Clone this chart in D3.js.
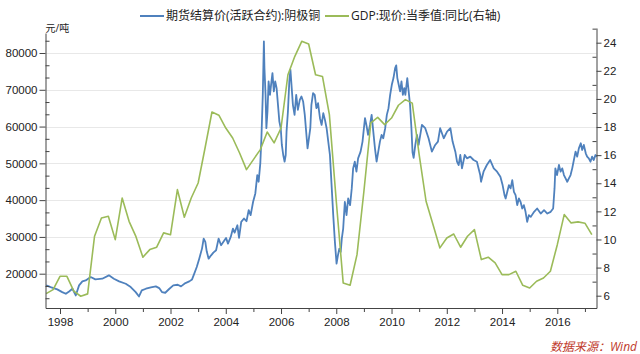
<!DOCTYPE html>
<html>
<head>
<meta charset="utf-8">
<script src="https://cdn.jsdelivr.net/npm/d3@7"></script>
<style>
  body { margin: 0; background: #fff; }
  svg { display: block; font-family: "Open Sans", "Noto Sans CJK SC", sans-serif; }
</style>
</head>
<body>
<div id="chart"></div>
<script>
// 期货结算价(活跃合约):阴极铜 as [year, 元/吨]
const copperSeries = [
    [1997.50, 16820], [1997.66, 16360], [1997.90, 15730], [1998.08, 15000], [1998.21, 14550],
    [1998.33, 15180], [1998.45, 15910], [1998.57, 14090], [1998.69, 16820], [1998.81, 17910],
    [1998.93, 18180], [1999.11, 19090], [1999.28, 18450], [1999.53, 18640], [1999.77, 19550],
    [1999.95, 18640], [2000.14, 17910], [2000.38, 17270], [2000.56, 16360], [2000.74, 15000],
    [2000.86, 13820], [2000.96, 15450], [2001.11, 15910], [2001.29, 16270], [2001.47, 16550],
    [2001.59, 16090], [2001.69, 15000], [2001.81, 14820], [2001.96, 15910], [2002.10, 16820],
    [2002.26, 17000], [2002.38, 16550], [2002.54, 17450], [2002.68, 17910], [2002.78, 18450],
    [2002.86, 20000], [2002.95, 21820], [2003.04, 24090], [2003.14, 26820], [2003.20, 29550],
    [2003.26, 28640], [2003.31, 26090], [2003.38, 24090], [2003.47, 25000], [2003.55, 25730],
    [2003.65, 26360], [2003.74, 29550], [2003.83, 27730], [2003.91, 28640], [2004.01, 29730],
    [2004.08, 28180], [2004.18, 30000], [2004.26, 32270], [2004.32, 31180], [2004.42, 33180],
    [2004.48, 29730], [2004.56, 34090], [2004.66, 35000], [2004.75, 34270], [2004.83, 37270],
    [2004.90, 35910], [2004.99, 39550], [2005.07, 41820], [2005.14, 46820], [2005.19, 45000],
    [2005.25, 50000], [2005.29, 56820], [2005.34, 68640], [2005.38, 83180], [2005.40, 75910],
    [2005.44, 68640], [2005.47, 59550], [2005.51, 64090], [2005.55, 72270], [2005.60, 68640],
    [2005.64, 71360], [2005.69, 74550], [2005.74, 69550], [2005.79, 72270], [2005.84, 70450],
    [2005.89, 65910], [2005.94, 61360], [2005.99, 59550], [2006.03, 55000], [2006.08, 52270],
    [2006.13, 50450], [2006.17, 52270], [2006.20, 58640], [2006.25, 64090], [2006.30, 72270],
    [2006.34, 75450], [2006.37, 72270], [2006.43, 65910], [2006.49, 63180], [2006.55, 68640],
    [2006.61, 64550], [2006.68, 67270], [2006.74, 68180], [2006.80, 66820], [2006.86, 63180],
    [2006.91, 58640], [2006.96, 54090], [2007.01, 56820], [2007.06, 59550], [2007.10, 65910],
    [2007.16, 69090], [2007.22, 68640], [2007.28, 65000], [2007.34, 66360], [2007.41, 62270],
    [2007.47, 60450], [2007.53, 63640], [2007.59, 61820], [2007.65, 59550], [2007.71, 55910],
    [2007.77, 52270], [2007.83, 44090], [2007.89, 35910], [2007.95, 28640], [2008.01, 22730],
    [2008.06, 25000], [2008.11, 26820], [2008.16, 25910], [2008.20, 29550], [2008.25, 32270],
    [2008.31, 39550], [2008.37, 35910], [2008.43, 40450], [2008.50, 38640], [2008.56, 43180],
    [2008.61, 48640], [2008.67, 50450], [2008.73, 47730], [2008.79, 51360], [2008.88, 53180],
    [2008.95, 55910], [2009.00, 59550], [2009.04, 62270], [2009.09, 60450], [2009.15, 57730],
    [2009.22, 60450], [2009.28, 63180], [2009.34, 58640], [2009.40, 54090], [2009.46, 50450],
    [2009.52, 53180], [2009.58, 55910], [2009.64, 57730], [2009.70, 56820], [2009.77, 59550],
    [2009.83, 63180], [2009.89, 65000], [2009.95, 68640], [2010.01, 71360], [2010.07, 73180],
    [2010.13, 75910], [2010.17, 76640], [2010.21, 73180], [2010.26, 71360], [2010.31, 69550],
    [2010.36, 72270], [2010.41, 68640], [2010.46, 70450], [2010.50, 68640], [2010.57, 73180],
    [2010.62, 69550], [2010.67, 65910], [2010.72, 59550], [2010.76, 53000], [2010.80, 51500],
    [2010.86, 55000], [2010.92, 57730], [2010.98, 55000], [2011.10, 60450], [2011.22, 59550],
    [2011.34, 56820], [2011.46, 53180], [2011.58, 55000], [2011.68, 55910], [2011.76, 59550],
    [2011.89, 56820], [2012.01, 58640], [2012.13, 59550], [2012.21, 55910], [2012.31, 53180],
    [2012.37, 50450], [2012.43, 49550], [2012.49, 52270], [2012.55, 48640], [2012.65, 52270],
    [2012.73, 51360], [2012.85, 51820], [2012.97, 50910], [2013.09, 50450], [2013.21, 46820],
    [2013.24, 45000], [2013.33, 47730], [2013.45, 49550], [2013.57, 50910], [2013.70, 48640],
    [2013.82, 47730], [2013.94, 46360], [2014.02, 44090], [2014.09, 41360], [2014.13, 40450],
    [2014.19, 42270], [2014.25, 44090], [2014.31, 43180], [2014.37, 45450], [2014.43, 42270],
    [2014.49, 41360], [2014.55, 38640], [2014.61, 40450], [2014.67, 39550], [2014.73, 37730],
    [2014.79, 38640], [2014.85, 36820], [2014.91, 34090], [2014.97, 35910], [2015.04, 35450],
    [2015.16, 36820], [2015.27, 37730], [2015.40, 36360], [2015.52, 37270], [2015.64, 36360],
    [2015.76, 36820], [2015.85, 37730], [2015.90, 43180], [2015.93, 48640], [2015.99, 46820],
    [2016.06, 49550], [2016.12, 47730], [2016.18, 48640], [2016.24, 46820], [2016.30, 45910],
    [2016.36, 45000], [2016.42, 45910], [2016.48, 46820], [2016.54, 48640], [2016.60, 50910],
    [2016.66, 53180], [2016.72, 51820], [2016.78, 54090], [2016.85, 55450], [2016.90, 53640],
    [2016.96, 55000], [2017.03, 52730], [2017.08, 51820], [2017.14, 51360], [2017.20, 50450],
    [2017.26, 51820], [2017.32, 50910], [2017.38, 52270], [2017.42, 51820]
];

// GDP:现价:当季值:同比 (%), one value per quarter from gdpStart
const gdpStart = 1997.5;
const gdpValues = [
    6.15, 6.43, 7.38, 7.38, 6.32, 5.96, 6.13, 10.23, 11.53, 11.65,
    9.99, 12.95, 11.29, 10.2, 8.74, 9.28, 9.45, 10.47, 10.34, 13.55,
    11.58, 12.95, 14.02, 16.51, 19.07, 18.84, 17.93, 17.22, 16.15, 14.97,
    15.68, 16.39, 17.65, 16.87, 17.93, 21.72, 23.03, 24.1, 23.91, 21.72,
    21.6, 18.88, 12.72, 6.91, 6.74, 8.92, 13.43, 18.29, 18.69, 18.17,
    18.64, 19.55, 19.95, 19.7, 16.03, 12.72, 11.06, 9.4, 10.11, 10.39,
    9.45, 10.23, 10.7, 8.57, 8.74, 8.33, 7.5, 7.5, 7.74, 6.74,
    6.55, 7.03, 7.26, 7.74, 9.63, 11.77, 11.18, 11.25, 11.16, 10.34
];

const leftTicks = [20000, 30000, 40000, 50000, 60000, 70000, 80000];
const rightTicks = [6, 8, 10, 12, 14, 16, 18, 20, 22, 24];
const yearTicks = [1998, 2000, 2002, 2004, 2006, 2008, 2010, 2012, 2014, 2016];
const yearMinorTicks = [1999, 2001, 2003, 2005, 2007, 2009, 2011, 2013, 2015, 2017];
const seriesNames = ["期货结算价(活跃合约):阴极铜", "GDP:现价:当季值:同比(右轴)"];
const unitLabel = "元/吨";
const sourceLabel = "数据来源：Wind";

const width = 640, height = 354;
const plot = { left: 45.5, right: 596.5, top: 28, leftTop: 33, bottom: 308 };
const colors = ["#4f81bd", "#9bbb59"];

const svg = d3.select("#chart")
    .append("svg")
    .attr("width", width)
    .attr("height", height);

// Scales: anchored on the tick positions of the picture, then stretched to the axis ends
const x = d3.scaleLinear().domain([1998, 2016]).range([60, 557.3]);
x.domain([x.invert(plot.left), x.invert(plot.right)]).range([plot.left, plot.right]);

const yLeft = d3.scaleLinear().domain([20000, 80000]).range([273.7, 53]);
yLeft.domain([yLeft.invert(plot.bottom), yLeft.invert(plot.leftTop)]).range([plot.bottom, plot.leftTop]);

const yRight = d3.scaleLinear().domain([6, 24]).range([295.7, 42.7]);
yRight.domain([yRight.invert(plot.bottom), yRight.invert(plot.top)]).range([plot.bottom, plot.top]);

// gridlines
svg.append("g")
    .selectAll("line")
    .data(leftTicks)
    .join("line")
    .attr("x1", plot.left)
    .attr("x2", plot.right)
    .attr("y1", d => Math.round(yLeft(d)) + 0.5)
    .attr("y2", d => Math.round(yLeft(d)) + 0.5)
    .attr("stroke", "#e8e8e8")
    .attr("stroke-width", 1);

// series lines
const copperLine = d3.line()
    .x(d => x(d[0]))
    .y(d => yLeft(d[1]));

const gdpLine = d3.line()
    .x((d, i) => x(gdpStart + i * 0.25))
    .y(d => yRight(d));

svg.append("path")
    .datum(copperSeries)
    .attr("fill", "none")
    .attr("stroke", colors[0])
    .attr("stroke-width", 1.8)
    .attr("stroke-linejoin", "round")
    .attr("d", copperLine);

svg.append("path")
    .datum(gdpValues)
    .attr("fill", "none")
    .attr("stroke", colors[1])
    .attr("stroke-width", 1.6)
    .attr("stroke-linejoin", "round")
    .attr("d", gdpLine);

// axes
function styleAxis(g) {
    g.selectAll(".domain").attr("stroke", "#444").attr("stroke-width", 1);
    g.selectAll(".tick line").attr("stroke", "#444");
    g.selectAll("text").attr("fill", "#222").attr("font-size", "11.5px");
}

const leftMinor = d3.range(1, 26).map(i => 10000 + i * 10000 / 3)
    .filter(v => v % 10000 > 1 && v % 10000 < 9999 && yLeft(v) > plot.leftTop);

svg.append("g")
    .attr("transform", `translate(${plot.left},0)`)
    .call(d3.axisRight(yLeft).tickValues(leftMinor).tickSize(4).tickSizeOuter(0).tickFormat(""))
    .call(g => g.select(".domain").remove())
    .call(styleAxis);

svg.append("g")
    .attr("transform", `translate(${plot.left},0)`)
    .call(d3.axisLeft(yLeft).tickValues(leftTicks).tickSize(6).tickSizeOuter(0).tickPadding(2).tickFormat(d3.format("d")))
    .call(styleAxis);

const rightMinor = d3.range(5, 26, 2).filter(v => yRight(v) >= plot.top && yRight(v) <= plot.bottom);

svg.append("g")
    .attr("transform", `translate(${plot.right},0)`)
    .call(d3.axisLeft(yRight).tickValues(rightMinor).tickSize(4).tickSizeOuter(0).tickFormat(""))
    .call(g => g.select(".domain").remove())
    .call(styleAxis);

svg.append("g")
    .attr("transform", `translate(${plot.right},0)`)
    .call(d3.axisRight(yRight).tickValues(rightTicks).tickSize(5).tickSizeOuter(0).tickPadding(2))
    .call(styleAxis);

svg.append("g")
    .attr("transform", `translate(0,${plot.bottom})`)
    .call(d3.axisBottom(x).tickValues(yearMinorTicks).tickSize(4).tickSizeOuter(0).tickFormat(""))
    .call(g => g.select(".domain").remove())
    .call(styleAxis);

svg.append("g")
    .attr("transform", `translate(0,${plot.bottom})`)
    .call(d3.axisBottom(x).tickValues(yearTicks).tickSize(6).tickSizeOuter(0).tickPadding(4).tickFormat(d3.format("d")))
    .call(styleAxis);

// unit label
svg.append("text")
    .attr("x", plot.left)
    .attr("y", 32)
    .attr("font-size", "10px")
    .attr("fill", "#222")
    .text(unitLabel);

// legend
const legendX = [140, 325];
const legend = svg.append("g")
    .selectAll("g")
    .data(seriesNames)
    .join("g")
    .attr("transform", (d, i) => `translate(${legendX[i]},16)`);

legend.append("line")
    .attr("x1", 0)
    .attr("x2", 24)
    .attr("stroke", (d, i) => colors[i])
    .attr("stroke-width", 2);

legend.append("text")
    .attr("x", 26)
    .attr("dy", "0.35em")
    .attr("font-size", "12px")
    .attr("fill", "#222")
    .text(d => d);

// source note
svg.append("text")
    .attr("x", 637)
    .attr("y", 351)
    .attr("text-anchor", "end")
    .attr("font-size", "12px")
    .attr("font-style", "italic")
    .attr("fill", "#c0392b")
    .text(sourceLabel);
</script>
</body>
</html>
